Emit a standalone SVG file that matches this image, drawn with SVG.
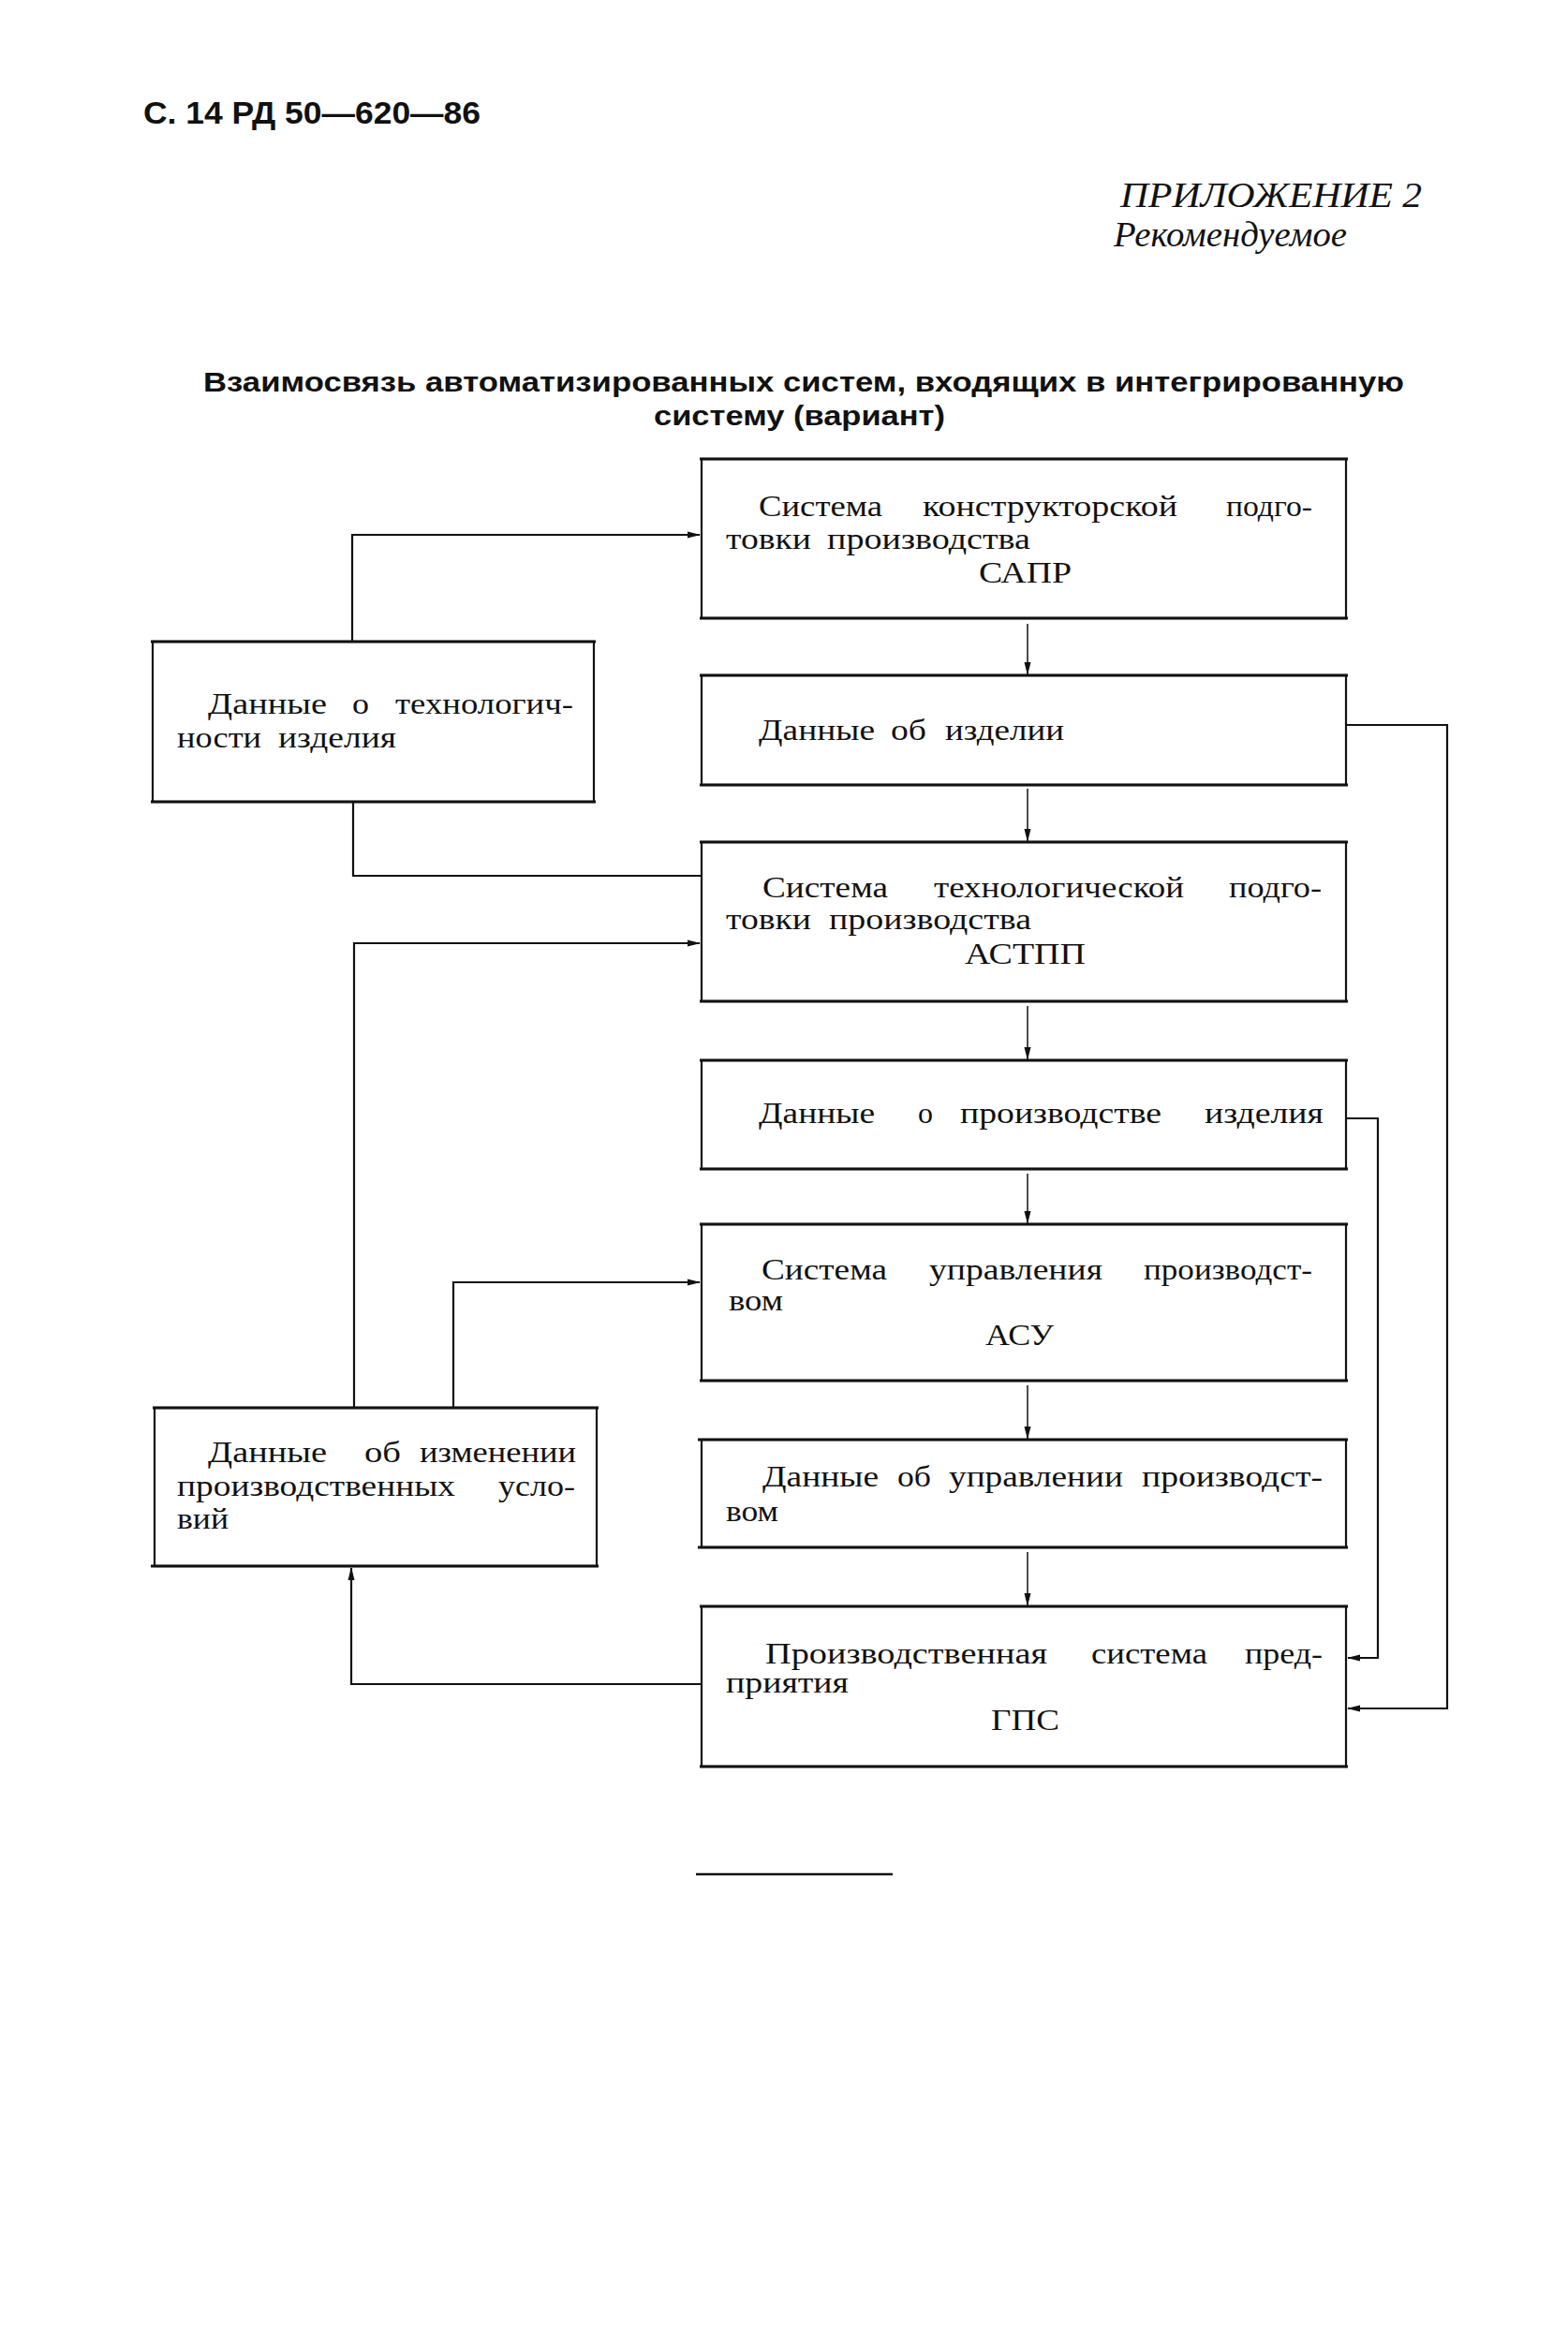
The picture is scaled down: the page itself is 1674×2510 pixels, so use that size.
<svg xmlns="http://www.w3.org/2000/svg" width="1674" height="2510" viewBox="0 0 1674 2510">
<style>
.bg{fill:#ffffff}
.box{fill:none;stroke:#111;stroke-width:2.2}
.edge{stroke:#111;stroke-width:3.2}
.ln{fill:none;stroke:#111;stroke-width:2.2}
.thin{fill:none;stroke:#111;stroke-width:1.5}
.t{font-family:"Liberation Serif","Times New Roman",serif;font-size:32px;fill:#111}
.hdr{font-family:"Liberation Sans",Arial,sans-serif;font-weight:bold;font-size:34px;fill:#111}
.ttl{font-family:"Liberation Sans",Arial,sans-serif;font-weight:bold;font-size:30px;fill:#111}
.it{font-family:"Liberation Serif","Times New Roman",serif;font-style:italic;font-size:37px;fill:#111}
</style>
<defs>
<marker id="ah" markerWidth="14" markerHeight="10" refX="13" refY="5" orient="auto" markerUnits="userSpaceOnUse">
<path d="M0,1.5 L14,5 L0,8.5 Z" fill="#111"/>
</marker>
</defs>
<rect class="bg" x="0" y="0" width="1674" height="2510"/>

<g id="header">
<text class="hdr" x="153" y="132" textLength="360" lengthAdjust="spacingAndGlyphs">С. 14 РД 50—620—86</text>
<text class="it" x="1196" y="221" textLength="322" lengthAdjust="spacingAndGlyphs">ПРИЛОЖЕНИЕ 2</text>
<text class="it" x="1189" y="263" font-size="34" textLength="249" lengthAdjust="spacingAndGlyphs">Рекомендуемое</text>
<text class="ttl" x="217" y="418" textLength="1282" lengthAdjust="spacingAndGlyphs">Взаимосвязь автоматизированных систем, входящих в интегрированную</text>
<text class="ttl" x="698" y="454" textLength="311" lengthAdjust="spacingAndGlyphs">систему (вариант)</text>
</g>

<g id="connectors">
<line class="thin" x1="1097" y1="666" x2="1097" y2="720" marker-end="url(#ah)"/>
<line class="thin" x1="1097" y1="842" x2="1097" y2="898" marker-end="url(#ah)"/>
<line class="thin" x1="1097" y1="1074" x2="1097" y2="1131" marker-end="url(#ah)"/>
<line class="thin" x1="1097" y1="1253" x2="1097" y2="1306" marker-end="url(#ah)"/>
<line class="thin" x1="1097" y1="1479" x2="1097" y2="1536" marker-end="url(#ah)"/>
<line class="thin" x1="1097" y1="1657" x2="1097" y2="1714" marker-end="url(#ah)"/>
<polyline class="ln" points="376,685 376,571 747,571" marker-end="url(#ah)"/>
<polyline class="ln" points="377,856 377,935 749,935"/>
<polyline class="ln" points="378,1503 378,1007 747,1007" marker-end="url(#ah)"/>
<polyline class="ln" points="484,1503 484,1369 747,1369" marker-end="url(#ah)"/>
<polyline class="ln" points="749,1798 375,1798 375,1674" marker-end="url(#ah)"/>
<polyline class="ln" points="1437,774 1545,774 1545,1824 1439,1824" marker-end="url(#ah)"/>
<polyline class="ln" points="1437,1194 1471,1194 1471,1770 1439,1770" marker-end="url(#ah)"/>
</g>

<g id="sapr">
<rect class="box" x="749" y="490" width="688" height="170"/>
<line class="edge" x1="747" y1="490" x2="1439" y2="490"/><line class="edge" x1="747" y1="660" x2="1439" y2="660"/>
<text class="t" x="810" y="551" textLength="132" lengthAdjust="spacingAndGlyphs">Система</text>
<text class="t" x="985" y="551" textLength="272" lengthAdjust="spacingAndGlyphs">конструкторской</text>
<text class="t" x="1309" y="551" textLength="92" lengthAdjust="spacingAndGlyphs">подго-</text>
<text class="t" x="775" y="586" textLength="91" lengthAdjust="spacingAndGlyphs">товки</text>
<text class="t" x="883" y="586" textLength="217" lengthAdjust="spacingAndGlyphs">производства</text>
<text class="t" x="1045" y="622" textLength="99" lengthAdjust="spacingAndGlyphs">САПР</text>
</g>

<g id="data-product">
<rect class="box" x="749" y="721" width="688" height="117"/>
<line class="edge" x1="747" y1="721" x2="1439" y2="721"/><line class="edge" x1="747" y1="838" x2="1439" y2="838"/>
<text class="t" x="810" y="790" textLength="124" lengthAdjust="spacingAndGlyphs">Данные</text>
<text class="t" x="951" y="790" textLength="38" lengthAdjust="spacingAndGlyphs">об</text>
<text class="t" x="1009" y="790" textLength="127" lengthAdjust="spacingAndGlyphs">изделии</text>
</g>

<g id="astpp">
<rect class="box" x="749" y="899" width="688" height="170"/>
<line class="edge" x1="747" y1="899" x2="1439" y2="899"/><line class="edge" x1="747" y1="1069" x2="1439" y2="1069"/>
<text class="t" x="814" y="958" textLength="134" lengthAdjust="spacingAndGlyphs">Система</text>
<text class="t" x="997" y="958" textLength="267" lengthAdjust="spacingAndGlyphs">технологической</text>
<text class="t" x="1312" y="958" textLength="99" lengthAdjust="spacingAndGlyphs">подго-</text>
<text class="t" x="775" y="992" textLength="91" lengthAdjust="spacingAndGlyphs">товки</text>
<text class="t" x="885" y="992" textLength="216" lengthAdjust="spacingAndGlyphs">производства</text>
<text class="t" x="1030" y="1029" textLength="129" lengthAdjust="spacingAndGlyphs">АСТПП</text>
</g>

<g id="data-production">
<rect class="box" x="749" y="1132" width="688" height="116"/>
<line class="edge" x1="747" y1="1132" x2="1439" y2="1132"/><line class="edge" x1="747" y1="1248" x2="1439" y2="1248"/>
<text class="t" x="810" y="1199" textLength="124" lengthAdjust="spacingAndGlyphs">Данные</text>
<text class="t" x="980" y="1199" textLength="16" lengthAdjust="spacingAndGlyphs">о</text>
<text class="t" x="1025" y="1199" textLength="215" lengthAdjust="spacingAndGlyphs">производстве</text>
<text class="t" x="1286" y="1199" textLength="127" lengthAdjust="spacingAndGlyphs">изделия</text>
</g>

<g id="asu">
<rect class="box" x="749" y="1307" width="688" height="167"/>
<line class="edge" x1="747" y1="1307" x2="1439" y2="1307"/><line class="edge" x1="747" y1="1474" x2="1439" y2="1474"/>
<text class="t" x="813" y="1366" textLength="134" lengthAdjust="spacingAndGlyphs">Система</text>
<text class="t" x="992" y="1366" textLength="185" lengthAdjust="spacingAndGlyphs">управления</text>
<text class="t" x="1221" y="1366" textLength="180" lengthAdjust="spacingAndGlyphs">производст-</text>
<text class="t" x="778" y="1399" textLength="58" lengthAdjust="spacingAndGlyphs">вом</text>
<text class="t" x="1052" y="1436" textLength="73" lengthAdjust="spacingAndGlyphs">АСУ</text>
</g>

<g id="data-control">
<rect class="box" x="749" y="1537" width="688" height="115"/>
<line class="edge" x1="745" y1="1537" x2="1439" y2="1537"/><line class="edge" x1="745" y1="1652" x2="1439" y2="1652"/>
<text class="t" x="814" y="1587" textLength="124" lengthAdjust="spacingAndGlyphs">Данные</text>
<text class="t" x="958" y="1587" textLength="36" lengthAdjust="spacingAndGlyphs">об</text>
<text class="t" x="1013" y="1587" textLength="186" lengthAdjust="spacingAndGlyphs">управлении</text>
<text class="t" x="1219" y="1587" textLength="193" lengthAdjust="spacingAndGlyphs">производст-</text>
<text class="t" x="775" y="1624" textLength="56" lengthAdjust="spacingAndGlyphs">вом</text>
</g>

<g id="gps">
<rect class="box" x="749" y="1715" width="688" height="171"/>
<line class="edge" x1="747" y1="1715" x2="1439" y2="1715"/><line class="edge" x1="747" y1="1886" x2="1439" y2="1886"/>
<text class="t" x="817" y="1776" textLength="301" lengthAdjust="spacingAndGlyphs">Производственная</text>
<text class="t" x="1165" y="1776" textLength="124" lengthAdjust="spacingAndGlyphs">система</text>
<text class="t" x="1329" y="1776" textLength="83" lengthAdjust="spacingAndGlyphs">пред-</text>
<text class="t" x="775" y="1807" textLength="131" lengthAdjust="spacingAndGlyphs">приятия</text>
<text class="t" x="1058" y="1847" textLength="73" lengthAdjust="spacingAndGlyphs">ГПС</text>
</g>

<g id="data-manufacturability">
<rect class="box" x="163" y="685" width="471" height="171"/>
<line class="edge" x1="161" y1="685" x2="636" y2="685"/><line class="edge" x1="161" y1="856" x2="636" y2="856"/>
<text class="t" x="222" y="762" textLength="127" lengthAdjust="spacingAndGlyphs">Данные</text>
<text class="t" x="376" y="762" textLength="18" lengthAdjust="spacingAndGlyphs">о</text>
<text class="t" x="422" y="762" textLength="190" lengthAdjust="spacingAndGlyphs">технологич-</text>
<text class="t" x="189" y="798" textLength="90" lengthAdjust="spacingAndGlyphs">ности</text>
<text class="t" x="297" y="798" textLength="126" lengthAdjust="spacingAndGlyphs">изделия</text>
</g>

<g id="data-conditions">
<rect class="box" x="165" y="1503" width="472" height="169"/>
<line class="edge" x1="163" y1="1503" x2="639" y2="1503"/><line class="edge" x1="161" y1="1672" x2="639" y2="1672"/>
<text class="t" x="222" y="1561" textLength="127" lengthAdjust="spacingAndGlyphs">Данные</text>
<text class="t" x="389" y="1561" textLength="39" lengthAdjust="spacingAndGlyphs">об</text>
<text class="t" x="448" y="1561" textLength="167" lengthAdjust="spacingAndGlyphs">изменении</text>
<text class="t" x="189" y="1597" textLength="297" lengthAdjust="spacingAndGlyphs">производственных</text>
<text class="t" x="532" y="1597" textLength="82" lengthAdjust="spacingAndGlyphs">усло-</text>
<text class="t" x="189" y="1632" textLength="55" lengthAdjust="spacingAndGlyphs">вий</text>
</g>

<g id="footer">
<line x1="743" y1="2001" x2="953" y2="2001" stroke="#111" stroke-width="2.5"/>
</g>
</svg>
